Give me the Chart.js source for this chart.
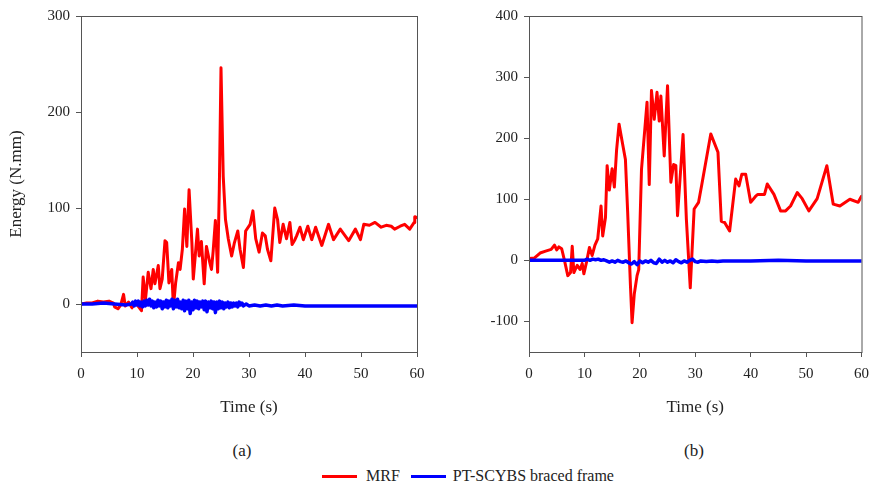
<!DOCTYPE html>
<html lang="en">
<head>
  <meta charset="UTF-8">
  <title>Energy time histories</title>
  <style>
    body {
      margin: 0;
      background: #fff;
      font-family: "Liberation Serif", "Times New Roman", serif;
      color: #222;
    }
    .page {
      position: relative;
      width: 877px;
      height: 486px;
      overflow: hidden;
    }
    canvas {
      position: absolute;
      top: 0;
    }
    .tag {
      position: absolute;
      top: 441px;
      font-size: 17px;
      width: 40px;
      text-align: center;
    }
    .legend {
      position: absolute;
      top: 467px;
      left: 322px;
      font-size: 16px;
      display: flex;
      align-items: center;
      white-space: nowrap;
    }
    .legend .swatch {
      display: inline-block;
      width: 35px;
      height: 3px;
      margin-right: 9px;
    }
  </style>
  <script src="https://cdn.jsdelivr.net/npm/chart.js"></script>
</head>
<body>
  <div class="page">
    <canvas id="chartA" width="440" height="422" style="left:0"></canvas>
    <canvas id="chartB" width="429" height="422" style="left:448px"></canvas>
    <div class="tag" style="left:222px">(a)</div>
    <div class="tag" style="left:674px">(b)</div>
    <div class="legend">
      <span class="swatch" style="background:#ff0000"></span><span style="margin-right:11px">MRF</span>
      <span class="swatch" style="background:#0000ff;margin-right:7px"></span><span>PT-SCYBS braced frame</span>
    </div>
  </div>

  <script>
    // panel (a) - MRF
    const timeMrfA = [0, 1, 2, 3, 4, 5, 5.8, 6, 6.6, 7.1, 7.6, 7.9, 8.5, 9.1, 9.7, 10.3, 10.8, 11.1, 11.5, 12,
      12.5, 12.9, 13.2, 13.8, 14.1, 14.5, 15, 15.3, 15.7, 16.2, 16.5, 16.9, 17.4, 17.7, 18.1, 18.5, 18.9, 19.3, 19.8, 20.05,
      20.4, 20.8, 21.1, 21.5, 22, 22.4, 23, 23.3, 23.6, 24, 24.4, 24.7, 25, 25.4, 25.8, 26.3, 26.9, 27.4, 28, 28.4,
      29, 29.4, 30.2, 30.7, 31.2, 31.8, 32.4, 32.9, 33.3, 33.9, 34.6, 35.1, 35.5, 36.1, 36.7, 37.3, 37.7, 38.2, 38.5, 39.1,
      39.7, 40.5, 41.2, 41.9, 43, 44.2, 45.1, 46.3, 47.8, 49, 49.9, 50.5, 51.5, 52.5, 53.6, 54.5, 55.4, 56, 57, 57.8,
      58.7, 59.5, 59.6, 60];
    const energyMrfA = [0, 1, 1, 3, 2, 3, 1, -3, -5, -1, 10, -2, 2, -4, 2, -3, -7, 28, 4, 33,
      16, 36, 21, 40, 16, 26, 66, 64, 22, 36, -3, 22, 43, 36, 57, 99, 60, 119, 64, 26,
      50, 78, 50, 65, 21, 60, 43, 36, 55, 87, 33, 120, 246, 133, 88, 68, 50, 64, 76, 57,
      38, 76, 83, 97, 68, 54, 74, 71, 57, 45, 100, 88, 64, 83, 68, 85, 62, 67, 71, 80,
      67, 81, 67, 80, 61, 83, 67, 78, 66, 78, 67, 83, 82, 85, 80, 82, 81, 78, 81, 83,
      78, 85, 91, 90];

    // panel (a) - PT-SCYBS braced frame
    const timeBraceA = [0, 2, 4, 6, 8, 9, 9.25, 9.5, 9.75, 10, 10.25, 10.5, 10.75, 11, 11.25, 11.5, 11.75, 12, 12.25, 12.5,
      12.75, 13, 13.25, 13.5, 13.75, 14, 14.25, 14.5, 14.75, 15, 15.25, 15.5, 15.75, 16, 16.25, 16.5, 16.75, 17, 17.25, 17.5,
      17.75, 18, 18.25, 18.5, 18.75, 19, 19.25, 19.5, 19.75, 20, 20.25, 20.5, 20.75, 21, 21.25, 21.5, 21.75, 22, 22.25, 22.5,
      22.75, 23, 23.25, 23.5, 23.75, 24, 24.25, 24.5, 24.75, 25, 25.25, 25.5, 25.75, 26, 26.25, 26.5, 26.75, 27, 27.25, 27.5,
      27.75, 28, 28.25, 28.5, 28.75, 29, 29.5, 30, 31, 32, 33, 34, 35, 36, 38, 40, 45, 50, 55, 60];
    const energyBraceA = [0, 0, 1, 0, -1, 0, 2, -2, 3, -1, 3, -2, 2, -3, 3, -2, 4, -1, 5, -2,
      3, -4, 2, -3, 4, -2, 3, -5, 2, -3, 4, -4, 3, -2, 5, -5, 4, -3, 5, -4,
      2, -5, 4, -7, 3, -5, 4, -10, 2, -6, 4, -4, 3, -5, 2, -3, 3, -6, 3, -8,
      2, -4, 3, -5, 2, -9, 2, -5, 3, -4, 2, -5, 1, -3, 2, -4, 1, -3, 1, -2,
      1, -3, 2, -1, 1, -2, 0, -2, -1, -2, -1, -2, -1, -2, -1, -2, -2, -2, -2, -2];

    // panel (b) - MRF
    const timeMrfB = [0, 1, 2, 3, 4, 4.6, 5, 5.4, 5.9, 6.4, 7, 7.5, 7.8, 8.1, 8.7, 9.2, 9.6, 9.9, 10.4, 10.9,
      11.4, 11.9, 12.4, 13, 13.3, 13.8, 14.1, 14.5, 15, 15.4, 15.8, 16.25, 16.9, 17.4, 17.8, 18.3, 18.6, 19, 19.5, 19.8,
      20.3, 20.9, 21.3, 21.7, 22.1, 22.6, 23.1, 23.5, 23.8, 24.4, 25, 25.6, 26.1, 26.5, 26.8, 27.8, 28.4, 29.1, 29.8, 30.6,
      31.2, 32.8, 34.1, 34.7, 35.3, 36.2, 37.3, 37.9, 38.4, 39.1, 40, 40.9, 41.3, 42.5, 43, 44.2, 45.4, 46.3, 47.2, 48.4,
      49.3, 50.5, 52, 53.75, 54.9, 56.1, 57.9, 59.4, 60];
    const energyMrfB = [3, 4, 12, 15, 18, 25, 17, 22, 19, 0, -25, -20, 23, -20, -8, -15, -5, -22, -2, 21,
      8, 25, 35, 89, 40, 70, 155, 115, 150, 120, 180, 223, 190, 165, 80, -40, -102, -55, -25, -15,
      149, 215, 259, 124, 278, 231, 275, 228, 269, 171, 286, 128, 157, 155, 73, 206, 67, -45, 84, 95,
      125, 207, 177, 64, 62, 48, 133, 122, 141, 141, 95, 105, 108, 108, 125, 108, 81, 81, 89, 111,
      101, 81, 101, 155, 92, 89, 100, 95, 105];

    // panel (b) - PT-SCYBS braced frame
    const timeBraceB = [0, 5, 10, 10.5, 11, 11.5, 12, 12.5, 13, 13.5, 14, 14.5, 15, 15.5, 16, 16.5, 17, 17.5, 18, 18.5,
      19, 19.5, 20, 20.5, 21, 21.5, 22, 22.5, 23, 23.5, 24, 24.5, 25, 25.5, 26, 26.5, 27, 27.5, 28, 28.5,
      29, 29.5, 30, 30.5, 31, 32, 33, 34, 35, 36, 38, 40, 45, 50, 55, 60];
    const energyBraceB = [0, 0, 0, 2, 0, 2, 1, 2, 0, 1, -1, -3, -1, -3, 0, -2, -3, -1, -4, -6,
      -2, -7, -1, -4, -1, -3, 0, -4, -5, 2, -3, 0, -3, -1, -4, 1, -2, -4, -1, -3,
      0, 2, -2, -3, -1, -2, -1, -2, -1, -1, -1, -1, 0, -1, -1, -1];

    const timeTicks = [0, 10, 20, 30, 40, 50, 60];
    const energyTicksA = [0, 100, 200, 300];
    const energyTicksB = [-100, 0, 100, 200, 300, 400];

    const toPoints = (xs, ys) => xs.map((x, i) => ({ x: x, y: ys[i] }));

    // frame around the plot area (top and right sides too)
    const framePlugin = {
      id: 'frame',
      afterDraw(chart) {
        const a = chart.chartArea;
        const ctx = chart.ctx;
        ctx.save();
        ctx.strokeStyle = '#555';
        ctx.lineWidth = 1;
        ctx.strokeRect(a.left + 0.5, a.top + 0.5, a.right - a.left, a.bottom - a.top);
        ctx.restore();
      }
    };

    Chart.defaults.font.family = '"Liberation Serif", "Times New Roman", serif';
    Chart.defaults.color = '#222';

    function makeChart(id, mrf, brace, yMin, yMax, yTicks, yTitle, axisWidth, pad) {
      const axisStyle = {
        border: { display: true, color: '#555', width: 1 },
        grid: { display: true, drawOnChartArea: false, drawTicks: true, tickLength: 5, color: '#555' }
      };
      return new Chart(document.getElementById(id), {
        type: 'line',
        data: {
          datasets: [{
            label: 'MRF',
            data: mrf,
            borderColor: '#ff0000',
            borderWidth: 3,
            borderJoinStyle: 'round',
            borderCapStyle: 'round',
            pointRadius: 0,
            tension: 0,
            order: 2
          }, {
            label: 'PT-SCYBS braced frame',
            data: brace,
            borderColor: '#0000ff',
            borderWidth: 3.5,
            borderJoinStyle: 'round',
            borderCapStyle: 'round',
            pointRadius: 0,
            tension: 0,
            order: 1
          }]
        },
        options: {
          responsive: false,
          animation: false,
          devicePixelRatio: 1,
          layout: { padding: pad },
          plugins: {
            legend: { display: false },
            tooltip: { enabled: false }
          },
          scales: {
            x: {
              type: 'linear',
              min: 0,
              max: 60,
              ...axisStyle,
              ticks: { font: { size: 15 }, padding: 8, color: '#222' },
              afterBuildTicks: s => { s.ticks = timeTicks.map(v => ({ value: v })); },
              afterFit: s => { s.height = 70; },
              title: { display: true, text: 'Time (s)', font: { size: 17 }, color: '#222', padding: { top: 4, bottom: 4 } }
            },
            y: {
              type: 'linear',
              min: yMin,
              max: yMax,
              ...axisStyle,
              ticks: { font: { size: 15 }, padding: 6, color: '#222' },
              afterBuildTicks: s => { s.ticks = yTicks.map(v => ({ value: v })); },
              afterFit: s => { s.width = axisWidth; },
              title: { display: yTitle !== '', text: yTitle, font: { size: 17 }, color: '#222', padding: { top: 2, bottom: 2 } }
            }
          }
        },
        plugins: [framePlugin]
      });
    }

    makeChart('chartA', toPoints(timeMrfA, energyMrfA), toPoints(timeBraceA, energyBraceA),
      -50, 300, energyTicksA, 'Energy (N.mm)', 77, { left: 4, right: 23, top: 16, bottom: 0 });
    makeChart('chartB', toPoints(timeMrfB, energyMrfB), toPoints(timeBraceB, energyBraceB),
      -150, 400, energyTicksB, '', 81, { left: 0, right: 12, top: 16, bottom: 0 });
  </script>
</body>
</html>
